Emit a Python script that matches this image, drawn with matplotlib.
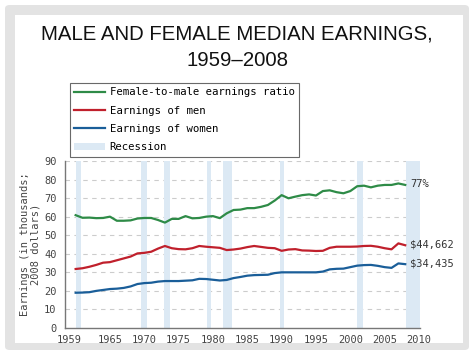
import matplotlib
matplotlib.use("Agg")
import matplotlib.pyplot as plt
from matplotlib.patches import Rectangle, Patch, FancyBboxPatch
from matplotlib.lines import Line2D

# Data, years 1960-2008
years = list(range(1960, 2009))
men = [31.8, 32.2, 33.0, 34.0, 35.2, 35.5, 36.5, 37.5, 38.5, 40.2,
       40.5, 41.1, 42.8, 44.2, 43.0, 42.5, 42.4, 43.0, 44.2, 43.8,
       43.5, 43.2, 42.0, 42.3, 42.8, 43.6, 44.2, 43.7, 43.2, 43.0,
       41.6, 42.3, 42.5, 41.8, 41.7, 41.5, 41.6, 43.2, 43.8, 43.8,
       43.8, 43.9, 44.2, 44.3, 43.8, 43.0, 42.4, 45.6, 44.6]
women = [19.0, 19.1, 19.3, 20.0, 20.5, 21.0, 21.2, 21.6, 22.4, 23.7,
         24.2, 24.4, 25.0, 25.3, 25.3, 25.3, 25.5, 25.7, 26.5, 26.4,
         26.0, 25.6, 25.9, 26.9, 27.5, 28.2, 28.5, 28.6, 28.7, 29.6,
         30.0, 30.0, 30.0, 30.0, 30.0, 30.0, 30.4, 31.6, 31.9, 32.0,
         32.8, 33.6, 33.9, 34.0, 33.5, 32.8, 32.4, 34.8, 34.4]
ratio = [60.8, 59.4, 59.5, 59.2, 59.3, 60.0, 57.8, 57.8, 58.0, 59.0,
         59.3, 59.3, 58.2, 56.8, 58.8, 58.8, 60.3, 59.1, 59.3, 60.0,
         60.3, 59.2, 61.8, 63.6, 63.8, 64.6, 64.6, 65.3, 66.3, 68.7,
         71.6, 69.9, 70.8, 71.6, 72.0, 71.4, 73.8, 74.2, 73.2, 72.6,
         73.8, 76.4, 76.7, 75.8, 76.7, 77.1, 77.1, 77.9, 77.1]
recessions = [(1960.0, 1960.8), (1969.5, 1970.4), (1972.9, 1973.7),
              (1979.1, 1979.7), (1981.4, 1982.8), (1989.7, 1990.3),
              (2001.0, 2001.8), (2008.1, 2010.2)]
end_labels = ["77%", "$44,662", "$34,435"]
xticks = [1959, 1965, 1970, 1975, 1980, 1985, 1990, 1995, 2000, 2005, 2010]
yticks = list(range(0, 100, 10))

green = "#2e8b47"
red = "#c0202c"
blue = "#1a5e99"
band = "#dce9f4"
W, H = 474, 355

fig = plt.figure(figsize=(W / 100, H / 100), dpi=100)

# slide frame
fig.patches.append(FancyBboxPatch((5 / W, 5 / H), 464 / W, 345 / H,
                                  boxstyle="round,pad=0,rounding_size=0.01",
                                  transform=fig.transFigure, facecolor="#e3e3e3",
                                  edgecolor="none", zorder=-3))
fig.patches.append(Rectangle((15 / W, 12 / H), 448 / W, 328 / H,
                             transform=fig.transFigure, facecolor="white",
                             edgecolor="none", zorder=-2))

fig.text(237 / W, 1 - 34 / H, "MALE AND FEMALE MEDIAN EARNINGS,", ha="center",
         va="center", fontsize=14.7, family="Liberation Sans", color="#111111")
fig.text(237 / W, 1 - 61 / H, "1959\u20132008", ha="center", va="center",
         fontsize=14.7, family="Liberation Sans", color="#111111")

mono = "DejaVu Sans Mono"
ax = fig.add_axes([65 / W, 1 - 328 / H, 355 / W, 167 / H])
ax.set_facecolor("none")

for a, b in recessions:
    ax.axvspan(a, b, color=band, lw=0, zorder=1)

ax.plot(years, ratio, color=green, lw=1.6, zorder=3)
ax.plot(years, men, color=red, lw=1.6, zorder=3)
ax.plot(years, women, color=blue, lw=1.6, zorder=3)

for lab, v in zip(end_labels, [ratio[-1], men[-1], women[-1]]):
    ax.text(2008.7, v + 0.3, lab, fontsize=7.5, family=mono, color="#333333",
            va="center", ha="left")

ax.set_xlim(1958.45, 2010.15)
ax.set_ylim(0, 90)
ax.set_xticks(xticks)
ax.set_yticks(yticks)
ax.tick_params(length=0, labelsize=7.5, colors="#444444")
ax.tick_params(axis="x", pad=5)
ax.tick_params(axis="y", pad=6)
for t in ax.get_xticklabels() + ax.get_yticklabels():
    t.set_family(mono)
for y in yticks[1:]:
    ax.axhline(y, color="#cccccc", lw=0.8, ls=(0, (4, 4)), zorder=0.5)
for s in ["top", "right"]:
    ax.spines[s].set_visible(False)
for s in ["left", "bottom"]:
    ax.spines[s].set_color("#777777")
    ax.spines[s].set_linewidth(1)
ax.set_ylabel("Earnings (in thousands;\n2008 dollars)", fontsize=7.5,
              family=mono, color="#444444", labelpad=3, linespacing=1.05)

handles = [Line2D([], [], color=green, lw=1.6),
           Line2D([], [], color=red, lw=1.6),
           Line2D([], [], color=blue, lw=1.6),
           Patch(facecolor=band, edgecolor="none")]
labels = ["Female-to-male earnings ratio", "Earnings of men",
          "Earnings of women", "Recession"]
leg = fig.legend(handles, labels, loc="upper left",
                 bbox_to_anchor=(70 / W, 1 - 83 / H),
                 prop={"family": mono, "size": 7.7}, frameon=True,
                 fancybox=False, edgecolor="#444444", handlelength=2.9,
                 handletextpad=0.4, labelspacing=0.78, borderpad=0.4,
                 borderaxespad=0)
leg.get_frame().set_linewidth(0.8)

fig.savefig("out.png", dpi=100)
